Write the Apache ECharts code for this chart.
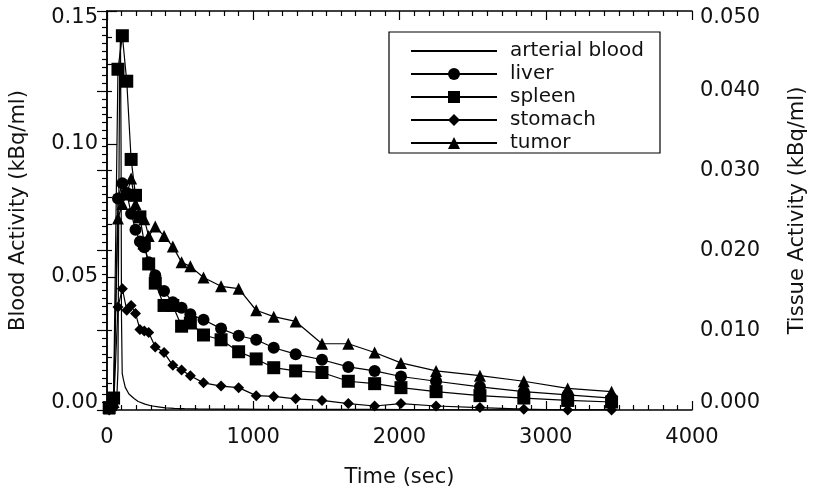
<!DOCTYPE html>
<html>
<head>
<meta charset="utf-8">
<script src="https://cdn.jsdelivr.net/npm/echarts@6/dist/echarts.min.js"></script>
<style>
html,body{margin:0;padding:0;background:#fff;}
#chart{width:816px;height:494px;}
</style>
</head>
<body>
<div id="chart"></div>
<script>
// ---- data ----
const seriesNames = ['arterial blood', 'liver', 'spleen', 'stomach', 'tumor'];

// tissue frame mid-times (sec)
const times = [15, 45, 75, 105, 135, 165, 195, 225, 255, 285, 330, 390, 450, 510, 570,
  660, 780, 900, 1020, 1140, 1290, 1470, 1650, 1830, 2010, 2250, 2550, 2850, 3150, 3450];

// tissue activity (kBq/ml), right axis
const liver = [0.0003, 0.0012, 0.0265, 0.0284, 0.0272, 0.0246, 0.0226, 0.0211, 0.0204, 0.0185,
  0.0169, 0.0149, 0.0135, 0.0128, 0.0120, 0.0113, 0.0102, 0.0093, 0.0088, 0.0078,
  0.0070, 0.0063, 0.0054, 0.0049, 0.0042, 0.0036, 0.0029, 0.0023, 0.0019, 0.0015];
const spleen = [0.0003, 0.0015, 0.0427, 0.0469, 0.0412, 0.0314, 0.0269, 0.0242, 0.0209, 0.0183,
  0.0159, 0.0131, 0.0131, 0.0105, 0.0109, 0.0094, 0.0088, 0.0073, 0.0064, 0.0053,
  0.0049, 0.0047, 0.0036, 0.0033, 0.0028, 0.0023, 0.0018, 0.0015, 0.0012, 0.0010];
const stomach = [0.0000, 0.0003, 0.0129, 0.0152, 0.0125, 0.0131, 0.0121, 0.0101, 0.0099, 0.0097,
  0.0079, 0.0072, 0.0056, 0.0050, 0.0043, 0.0034, 0.0030, 0.0028, 0.0018, 0.0017,
  0.0014, 0.0012, 0.0008, 0.0005, 0.0008, 0.0005, 0.0003, 0.0001, 0.0000, 0.0000];
const tumor = [0.0002, 0.0010, 0.0240, 0.0258, 0.0270, 0.0290, 0.0258, 0.0244, 0.0239, 0.0218,
  0.0230, 0.0218, 0.0205, 0.0185, 0.0180, 0.0166, 0.0155, 0.0152, 0.0125, 0.0117,
  0.0111, 0.0083, 0.0083, 0.0072, 0.0059, 0.0049, 0.0043, 0.0036, 0.0027, 0.0023];

// arterial blood samples (kBq/ml), left axis
const artTimes = [0, 30, 50, 65, 75, 80, 86, 92, 96, 99, 104, 112, 125, 150, 185, 213, 260,
  300, 350, 400, 460, 530, 620, 750, 900, 1100, 1400, 1800, 2300, 2900, 3450];
const artValues = [0, 0, 0.0003, 0.002, 0.015, 0.07, 0.125, 0.140, 0.10, 0.035, 0.0138, 0.0115,
  0.0085, 0.0060, 0.0043, 0.0032, 0.0022, 0.0016, 0.0012, 0.0008, 0.0006, 0.0005, 0.0004,
  0.0003, 0.0003, 0.0002, 0.0002, 0.0002, 0.0001, 0.0001, 0.0001];

// axes
const xRange = [0, 4000], xStep = 1000;
const bloodRange = [0, 0.15], bloodStep = 0.05;
const tissueRange = [0, 0.05], tissueStep = 0.01;

// ---- chart ----
const FONT = 'DejaVu Sans';
const INK = '#000';
const TXT = '#111';
const pairs = (xs, ys) => xs.map((x, i) => [x, ys[i]]);

const chart = echarts.init(document.getElementById('chart'), null, {renderer: 'canvas'});

const baseX = {
  type: 'value', min: xRange[0], max: xRange[1], interval: xStep,
  axisLine: {show: true, onZero: false, lineStyle: {color: INK, width: 1.5}},
  axisTick: {show: true, inside: true, length: 9, lineStyle: {color: INK, width: 1.2}},
  minorTick: {show: true, splitNumber: 10, length: 5, lineStyle: {color: INK, width: 1.2}},
  splitLine: {show: false}
};

function yAxisDef(range, step, digits, minorSplit, pos, name, nameGap) {
  return {
    type: 'value', position: pos, min: range[0], max: range[1], interval: step,
    name: name, nameLocation: 'middle', nameGap: nameGap, nameRotate: 90,
    nameTextStyle: {fontFamily: FONT, fontSize: 21, color: TXT},
    axisLine: {show: true, lineStyle: {color: INK, width: 1.5}},
    axisTick: {show: true, inside: true, length: 10, lineStyle: {color: INK, width: 1.2}},
    minorTick: {show: true, splitNumber: minorSplit, length: 5, lineStyle: {color: INK, width: 1.2}},
    splitLine: {show: false},
    axisLabel: {
      fontFamily: FONT, fontSize: 21, color: TXT, margin: pos === 'left' ? 9 : 8,
      lineHeight: 14,
      formatter: v => v.toFixed(digits),
      verticalAlignMinLabel: 'bottom', verticalAlignMaxLabel: 'top'
    }
  };
}

const markerSeries = [
  {name: 'liver', data: liver, symbol: 'circle', size: 12},
  {name: 'spleen', data: spleen, symbol: 'rect', size: 13},
  {name: 'stomach', data: stomach, symbol: 'diamond', size: 11},
  {name: 'tumor', data: tumor, symbol: 'triangle', size: 12}
];

const series = [{
  name: seriesNames[0], type: 'line', xAxisIndex: 0, yAxisIndex: 0,
  data: pairs(artTimes, artValues), symbol: 'none', showSymbol: false,
  lineStyle: {color: INK, width: 1.2}, itemStyle: {color: INK}, silent: true, z: 2
}].concat(markerSeries.map(s => ({
  name: s.name, type: 'line', xAxisIndex: 0, yAxisIndex: 1,
  data: pairs(times, s.data), symbol: s.symbol, symbolSize: s.size, showSymbol: true,
  lineStyle: {color: INK, width: 1.2}, itemStyle: {color: INK}, silent: true, z: 3
})));

chart.setOption({
  backgroundColor: '#fff',
  animation: false,
  grid: {left: 106, right: 121, top: 11, bottom: 84, containLabel: false},
  xAxis: [
    Object.assign({}, baseX, {
      position: 'bottom',
      name: 'Time (sec)', nameLocation: 'middle', nameGap: 57,
      nameTextStyle: {fontFamily: FONT, fontSize: 21, color: TXT},
      axisLabel: {fontFamily: FONT, fontSize: 21, color: TXT, margin: 17, formatter: v => String(v)}
    }),
    Object.assign({}, baseX, {position: 'top', axisLabel: {show: false}})
  ],
  yAxis: [
    yAxisDef(bloodRange, bloodStep, 2, 5, 'left', 'Blood Activity (kBq/ml)', 78),
    yAxisDef(tissueRange, tissueStep, 3, 10, 'right', 'Tissue Activity (kBq/ml)', 95)
  ],
  legend: {
    show: true, orient: 'vertical', left: 389, top: 32,
    data: [
      {name: seriesNames[0], itemStyle: {color: 'rgba(0,0,0,0)', opacity: 0, borderWidth: 0}},
      {name: seriesNames[1]}, {name: seriesNames[2]}, {name: seriesNames[3]}, {name: seriesNames[4]}
    ],
    itemWidth: 86, itemHeight: 15, itemGap: 3,
    padding: [9, 16, 0, 21],
    borderColor: INK, borderWidth: 1.2, borderRadius: 0,
    backgroundColor: '#fff',
    selectedMode: false,
    textStyle: {fontFamily: FONT, fontSize: 20, color: TXT, lineHeight: 15, padding: [0, 0, 0, 8]}
  },
  series: series
});
</script>
</body>
</html>
